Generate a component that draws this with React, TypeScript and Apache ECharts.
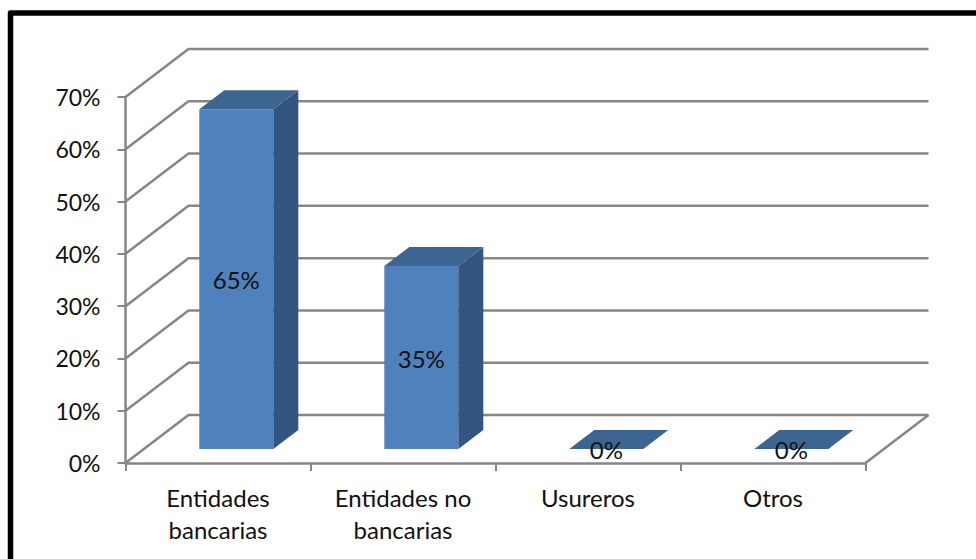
import React, { useEffect, useRef } from "react";
import * as echarts from "echarts";

const categories = ["Entidades\nbancarias", "Entidades no\nbancarias", "Usureros", "Otros"];
const shares = [0.65, 0.35, 0, 0];
const shareLabels = ["65%", "35%", "0%", "0%"];
const wallLevels = [0, 0.1, 0.2, 0.3, 0.4, 0.5, 0.6, 0.7];

const FONT = "Lato, Carlito, sans-serif";
const GREY = "#868686";
const WALL_DX = 63;
const WALL_DY = -48;
const BAR_W = 74;
const BAR_SHIFT_X = 18.3;
const BAR_SHIFT_Y = -14;
const BAR_DX = 25;
const BAR_DY = -19;

export default function App() {
  const ref = useRef<HTMLDivElement>(null);
  useEffect(() => {
    document.body.style.margin = "0";
    const chart = echarts.init(ref.current!, null, { renderer: "svg" });
    chart.setOption({
      animation: false,
      backgroundColor: "#ffffff",
      grid: { left: 125.5, top: 97, width: 740, height: 366, containLabel: false },
      graphic: [
        {
          type: "polyline",
          silent: true,
          shape: { points: [[10.5, 559], [10.5, 13], [976, 13]] },
          style: { stroke: "#000000", lineWidth: 5.5, fill: "none", lineJoin: "round" },
          z: 100,
        },
      ],
      xAxis: {
        type: "category",
        data: categories,
        boundaryGap: true,
        axisLine: { lineStyle: { color: GREY, width: 2.5 } },
        axisTick: { show: true, length: 8, alignWithLabel: false, lineStyle: { color: GREY, width: 2 } },
        axisLabel: { color: "#111111", fontFamily: FONT, fontSize: 24, lineHeight: 32, margin: 18, interval: 0 },
      },
      yAxis: {
        type: "value",
        min: 0,
        max: 0.7,
        interval: 0.1,
        axisLine: { show: true, lineStyle: { color: GREY, width: 2.5 } },
        axisTick: { show: true, length: 8, lineStyle: { color: GREY, width: 2 } },
        splitLine: { show: false },
        axisLabel: {
          color: "#111111",
          fontFamily: FONT,
          fontSize: 23,
          margin: 25,
          formatter: (v: number) => Math.round(v * 100) + "%",
        },
      },
      series: [
        {
          type: "custom",
          name: "walls",
          coordinateSystem: "cartesian2d",
          clip: false,
          silent: true,
          z: 1,
          data: wallLevels.map((v) => [0, v]),
          renderItem: (params: any, api: any) => {
            const cs = params.coordSys;
            const y = api.coord([0, api.value(1)])[1];
            const left = cs.x;
            const right = cs.x + cs.width;
            const stroke = { stroke: GREY, lineWidth: 2.5, fill: "none" };
            const children: any[] = [
              {
                type: "polyline",
                shape: { points: [[left, y], [left + WALL_DX, y + WALL_DY], [right + WALL_DX, y + WALL_DY]] },
                style: stroke,
              },
            ];
            if (api.value(1) === 0) {
              children.push({
                type: "line",
                shape: { x1: right, y1: y, x2: right + WALL_DX, y2: y + WALL_DY },
                style: stroke,
              });
            }
            return { type: "group", children };
          },
        },
        {
          type: "custom",
          name: "bars",
          coordinateSystem: "cartesian2d",
          clip: false,
          z: 2,
          data: shares.map((v, i) => [i, v]),
          renderItem: (params: any, api: any) => {
            const i = api.value(0);
            const top = api.coord([i, api.value(1)]);
            const base = api.coord([i, 0]);
            const x0 = top[0] + BAR_SHIFT_X - BAR_W / 2;
            const x1 = x0 + BAR_W;
            const yT = top[1] + BAR_SHIFT_Y;
            const yB = base[1] + BAR_SHIFT_Y;
            return {
              type: "group",
              children: [
                {
                  type: "polygon",
                  shape: { points: [[x0, yB], [x1, yB], [x1, yT], [x0, yT]] },
                  style: { fill: "#4f81bd" },
                },
                {
                  type: "polygon",
                  shape: { points: [[x1, yB], [x1 + BAR_DX, yB + BAR_DY], [x1 + BAR_DX, yT + BAR_DY], [x1, yT]] },
                  style: { fill: "#335680" },
                },
                {
                  type: "polygon",
                  shape: { points: [[x0, yT], [x1, yT], [x1 + BAR_DX, yT + BAR_DY], [x0 + BAR_DX, yT + BAR_DY]] },
                  style: { fill: "#3c6591" },
                },
                {
                  type: "text",
                  style: {
                    text: shareLabels[i],
                    x: (x0 + x1) / 2,
                    y: (yT + yB) / 2 + 0.5,
                    align: "center",
                    verticalAlign: "middle",
                    fill: "#111111",
                    font: `24px ${FONT}`,
                  },
                },
              ],
            };
          },
        },
      ],
    });
    return () => chart.dispose();
  }, []);
  return <div ref={ref} style={{ position: "fixed", left: 0, top: 0, width: 976, height: 559 }} />;
}
